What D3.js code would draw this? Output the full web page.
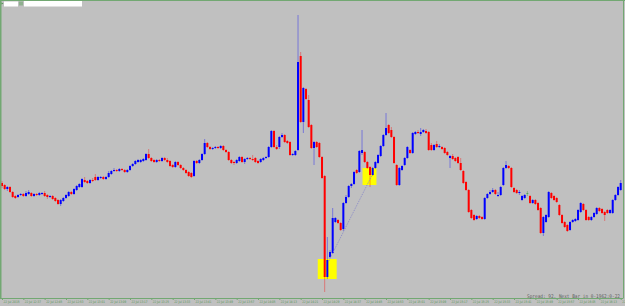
<!DOCTYPE html>
<html>
<head>
<meta charset="utf-8">
<script src="https://cdn.jsdelivr.net/npm/d3@7"></script>
<style>
html, body { margin: 0; padding: 0; background: #c0c0c0; overflow: hidden; }
svg { display: block; }
</style>
</head>
<body>
<div id="output"></div>
<script>
(function () {

"use strict";

// M1 bars, oldest first
var open = [
  1.2817,1.2815,1.2811,1.2813,1.2808,1.2804,1.2803,1.2805,1.2806,1.2804,1.2806,1.2807,1.2804,1.2806,1.2805,1.2806,
  1.2807,1.2805,1.2803,1.2804,1.2802,1.2800,1.2796,1.2799,1.2802,1.2804,1.2808,1.2806,1.2810,1.2813,1.2813,1.2820,
  1.2819,1.2817,1.2820,1.2823,1.2820,1.2822,1.2823,1.2821,1.2823,1.2826,1.2829,1.2830,1.2829,1.2831,1.2830,1.2828,
  1.2830,1.2834,1.2836,1.2838,1.2838,1.2839,1.2840,1.2846,1.2842,1.2840,1.2838,1.2840,1.2839,1.2842,1.2840,1.2839,
  1.2835,1.2833,1.2838,1.2835,1.2832,1.2830,1.2828,1.2827,1.2824,1.2839,1.2837,1.2840,1.2846,1.2857,1.2853,1.2851,
  1.2852,1.2853,1.2852,1.2854,1.2850,1.2848,1.2840,1.2838,1.2837,1.2839,1.2843,1.2838,1.2841,1.2842,1.2841,1.2842,
  1.2839,1.2838,1.2840,1.2842,1.2843,1.2853,1.2869,1.2853,1.2853,1.2863,1.2865,1.2859,1.2858,1.2845,1.2845,1.2850,
  1.2944,1.2878,1.2911,1.2900,1.2875,1.2852,1.2858,1.2857,1.2843,1.2824,1.2723,1.2743,1.2747,1.2778,1.2780,1.2777,
  1.2771,1.2797,1.2803,1.2814,1.2816,1.2830,1.2828,1.2847,1.2848,1.2838,1.2833,1.2825,1.2832,1.2837,1.2844,1.2854,
  1.2865,1.2875,1.2870,1.2863,1.2835,1.2815,1.2830,1.2835,1.2842,1.2850,1.2847,1.2866,1.2868,1.2866,1.2868,1.2869,
  1.2868,1.2855,1.2850,1.2856,1.2853,1.2853,1.2852,1.2848,1.2842,1.2844,1.2842,1.2843,1.2837,1.2829,1.2818,1.2810,
  1.2790,1.2785,1.2781,1.2784,1.2783,1.2781,1.2802,1.2806,1.2808,1.2810,1.2804,1.2805,1.2815,1.2832,1.2834,1.2832,
  1.2812,1.2810,1.2807,1.2800,1.2802,1.2807,1.2804,1.2797,1.2800,1.2797,1.2792,1.2767,1.2778,1.2783,1.2807,1.2804,
  1.2802,1.2795,1.2785,1.2778,1.2775,1.2770,1.2778,1.2779,1.2780,1.2788,1.2796,1.2790,1.2783,1.2780,1.2783,1.2786,
  1.2792,1.2791,1.2788,1.2790,1.2787,1.2787,1.2800,1.2805,1.2810
]
var high = [
  1.2819,1.2816,1.2814,1.2814,1.2809,1.2805,1.2806,1.2807,1.2807,1.2809,1.2810,1.2808,1.2807,1.2807,1.2808,1.2808,
  1.2809,1.2806,1.2805,1.2805,1.2803,1.2801,1.2801,1.2803,1.2806,1.2809,1.2809,1.2812,1.2815,1.2817,1.2822,1.2823,
  1.2820,1.2821,1.2822,1.2826,1.2824,1.2824,1.2824,1.2824,1.2829,1.2830,1.2832,1.2831,1.2832,1.2832,1.2831,1.2831,
  1.2835,1.2837,1.2840,1.2841,1.2841,1.2842,1.2847,1.2851,1.2843,1.2841,1.2841,1.2841,1.2843,1.2843,1.2842,1.2840,
  1.2836,1.2839,1.2839,1.2836,1.2833,1.2831,1.2829,1.2828,1.2840,1.2840,1.2841,1.2847,1.2861,1.2858,1.2854,1.2853,
  1.2854,1.2854,1.2855,1.2855,1.2851,1.2849,1.2841,1.2839,1.2841,1.2844,1.2844,1.2842,1.2843,1.2843,1.2845,1.2843,
  1.2840,1.2842,1.2843,1.2844,1.2854,1.2870,1.2870,1.2855,1.2864,1.2867,1.2866,1.2860,1.2859,1.2847,1.2850,1.2985,
  1.2948,1.2913,1.2912,1.2905,1.2876,1.2859,1.2859,1.2858,1.2844,1.2825,1.2763,1.2750,1.2792,1.2783,1.2781,1.2778,
  1.2798,1.2805,1.2815,1.2817,1.2829,1.2831,1.2850,1.2870,1.2849,1.2839,1.2834,1.2833,1.2839,1.2846,1.2855,1.2866,
  1.2887,1.2876,1.2873,1.2864,1.2836,1.2833,1.2835,1.2843,1.2854,1.2851,1.2868,1.2869,1.2870,1.2872,1.2871,1.2871,
  1.2869,1.2857,1.2856,1.2859,1.2856,1.2854,1.2853,1.2849,1.2845,1.2846,1.2843,1.2844,1.2842,1.2830,1.2819,1.2811,
  1.2791,1.2786,1.2785,1.2785,1.2784,1.2803,1.2807,1.2810,1.2812,1.2811,1.2808,1.2814,1.2833,1.2839,1.2835,1.2833,
  1.2813,1.2811,1.2810,1.2805,1.2806,1.2809,1.2805,1.2801,1.2801,1.2798,1.2793,1.2784,1.2786,1.2809,1.2808,1.2805,
  1.2803,1.2796,1.2786,1.2779,1.2776,1.2779,1.2781,1.2782,1.2791,1.2798,1.2797,1.2791,1.2784,1.2784,1.2788,1.2793,
  1.2793,1.2792,1.2789,1.2791,1.2791,1.2801,1.2806,1.2814,1.2820
]
var low = [
  1.2812,1.2810,1.2809,1.2807,1.2802,1.2801,1.2802,1.2804,1.2803,1.2803,1.2805,1.2803,1.2803,1.2804,1.2804,1.2805,
  1.2803,1.2801,1.2802,1.2800,1.2798,1.2795,1.2794,1.2798,1.2801,1.2803,1.2805,1.2805,1.2809,1.2812,1.2812,1.2817,
  1.2816,1.2816,1.2818,1.2819,1.2819,1.2821,1.2820,1.2820,1.2822,1.2825,1.2828,1.2828,1.2828,1.2829,1.2827,1.2827,
  1.2829,1.2833,1.2835,1.2837,1.2837,1.2838,1.2839,1.2841,1.2838,1.2837,1.2837,1.2838,1.2838,1.2839,1.2837,1.2833,
  1.2832,1.2832,1.2834,1.2831,1.2829,1.2826,1.2823,1.2822,1.2823,1.2836,1.2836,1.2839,1.2845,1.2852,1.2850,1.2850,
  1.2851,1.2851,1.2851,1.2849,1.2847,1.2839,1.2836,1.2835,1.2836,1.2838,1.2837,1.2836,1.2840,1.2840,1.2839,1.2837,
  1.2836,1.2837,1.2839,1.2841,1.2842,1.2852,1.2852,1.2850,1.2851,1.2862,1.2857,1.2856,1.2844,1.2844,1.2844,1.2849,
  1.2877,1.2867,1.2900,1.2872,1.2851,1.2835,1.2852,1.2842,1.2821,1.2708,1.2721,1.2742,1.2746,1.2777,1.2776,1.2769,
  1.2769,1.2796,1.2802,1.2812,1.2815,1.2826,1.2827,1.2845,1.2837,1.2831,1.2813,1.2824,1.2831,1.2836,1.2843,1.2853,
  1.2864,1.2866,1.2862,1.2836,1.2814,1.2814,1.2829,1.2834,1.2841,1.2846,1.2846,1.2865,1.2866,1.2864,1.2867,1.2866,
  1.2849,1.2849,1.2849,1.2852,1.2852,1.2850,1.2846,1.2844,1.2832,1.2840,1.2838,1.2836,1.2829,1.2816,1.2809,1.2787,
  1.2781,1.2779,1.2780,1.2781,1.2780,1.2780,1.2801,1.2805,1.2807,1.2805,1.2803,1.2804,1.2814,1.2831,1.2831,1.2812,
  1.2807,1.2806,1.2805,1.2799,1.2801,1.2804,1.2796,1.2796,1.2795,1.2789,1.2766,1.2764,1.2777,1.2782,1.2801,1.2799,
  1.2797,1.2784,1.2776,1.2772,1.2768,1.2769,1.2777,1.2778,1.2779,1.2787,1.2789,1.2779,1.2779,1.2779,1.2782,1.2785,
  1.2788,1.2786,1.2779,1.2786,1.2786,1.2786,1.2799,1.2804,1.2809
]
var close = [
  1.2814,1.2811,1.2813,1.2808,1.2803,1.2802,1.2805,1.2806,1.2804,1.2807,1.2808,1.2804,1.2806,1.2805,1.2807,1.2807,
  1.2804,1.2803,1.2804,1.2801,1.2799,1.2796,1.2800,1.2802,1.2805,1.2808,1.2806,1.2811,1.2814,1.2816,1.2821,1.2818,
  1.2817,1.2820,1.2819,1.2820,1.2823,1.2823,1.2821,1.2823,1.2827,1.2829,1.2830,1.2829,1.2831,1.2830,1.2828,1.2830,
  1.2834,1.2836,1.2839,1.2840,1.2840,1.2841,1.2846,1.2842,1.2839,1.2838,1.2840,1.2839,1.2842,1.2840,1.2838,1.2834,
  1.2833,1.2838,1.2835,1.2832,1.2830,1.2827,1.2824,1.2823,1.2839,1.2837,1.2840,1.2846,1.2857,1.2853,1.2851,1.2852,
  1.2853,1.2852,1.2854,1.2850,1.2848,1.2840,1.2837,1.2837,1.2840,1.2843,1.2838,1.2841,1.2842,1.2841,1.2840,1.2838,
  1.2837,1.2841,1.2842,1.2843,1.2853,1.2869,1.2853,1.2851,1.2863,1.2865,1.2858,1.2857,1.2845,1.2846,1.2849,1.2938,
  1.2878,1.2912,1.2901,1.2873,1.2852,1.2858,1.2853,1.2843,1.2822,1.2723,1.2740,1.2748,1.2782,1.2782,1.2777,1.2770,
  1.2797,1.2803,1.2814,1.2816,1.2828,1.2827,1.2849,1.2850,1.2838,1.2832,1.2825,1.2832,1.2838,1.2845,1.2854,1.2865,
  1.2872,1.2867,1.2863,1.2837,1.2815,1.2832,1.2834,1.2842,1.2853,1.2847,1.2867,1.2868,1.2867,1.2868,1.2870,1.2867,
  1.2850,1.2850,1.2855,1.2853,1.2854,1.2851,1.2847,1.2845,1.2844,1.2841,1.2839,1.2837,1.2830,1.2817,1.2810,1.2788,
  1.2782,1.2780,1.2784,1.2782,1.2781,1.2802,1.2806,1.2808,1.2810,1.2806,1.2805,1.2813,1.2832,1.2835,1.2832,1.2813,
  1.2808,1.2807,1.2808,1.2804,1.2805,1.2807,1.2797,1.2800,1.2796,1.2790,1.2767,1.2783,1.2785,1.2808,1.2802,1.2800,
  1.2798,1.2785,1.2777,1.2773,1.2769,1.2778,1.2780,1.2781,1.2790,1.2797,1.2790,1.2780,1.2780,1.2783,1.2787,1.2792,
  1.2789,1.2787,1.2785,1.2787,1.2790,1.2800,1.2805,1.2813,1.2817
]

// one label every 8 bars
var timeLabels = [
  "22 Jul 2015","22 Jul 12:37","22 Jul 12:45","22 Jul 12:53","22 Jul 13:01","22 Jul 13:09","22 Jul 13:17","22 Jul 13:25",
  "22 Jul 13:33","22 Jul 13:41","22 Jul 13:49","22 Jul 13:57","22 Jul 14:05","22 Jul 14:13","22 Jul 14:21","22 Jul 14:29",
  "22 Jul 14:37","22 Jul 14:45","22 Jul 14:53","22 Jul 15:01","22 Jul 15:09","22 Jul 15:17","22 Jul 15:25","22 Jul 15:33",
  "22 Jul 15:41","22 Jul 15:49","22 Jul 15:57","22 Jul 16:05","22 Jul 16:13","22 Jul 16:21"
]

// rectangle objects (bar index / price)
var boxFrom = [ 118.4, 135.2 ]
var boxTo = [ 125.5, 140.4 ]
var boxTop = [ 1.2741, 1.2832 ]
var boxBottom = [ 1.2721, 1.2815 ]

// trend line (bar index / price)
var trendBar = [ 122.5, 138.6 ]
var trendPrice = [ 1.2739, 1.2824 ]

var statusText = "Spread: 92. Next Bar in 0-1962:0-22"

var width = 625
  , height = 306
  , plotBottom = 298
  , frameColor = "#72a872"
  , labelColor = "#4f934f"

var svg = d3.select("#output").append("svg").attr("width", width).attr("height", height)

svg.append("rect").attr("width", width).attr("height", height).attr("fill", "#c0c0c0")

var x = d3.scaleLinear().domain([0, open.length - 1]).range([2, 620.7])
var y = d3.scaleLinear().domain([1.2702, 1.3000]).range([plotBottom, 0])

var bars = d3.range(open.length).map(function (i) {
  return { i: i, o: open[i], h: high[i], l: low[i], c: close[i] }
})

// yellow rectangles sit under the bars
svg.append("g").selectAll("rect").data(boxFrom).enter().append("rect")
  .attr("x", function (d) { return x(d) })
  .attr("width", function (d, k) { return x(boxTo[k]) - x(d) })
  .attr("y", function (d, k) { return y(boxTop[k]) })
  .attr("height", function (d, k) { return y(boxBottom[k]) - y(boxTop[k]) })
  .attr("fill", "#ffff00")

function barColor(d) {
  if (d.c > d.o) return "#0000ff"
  if (d.c < d.o) return "#ff0000"
  return "#30a030"
}

var g = svg.append("g")

g.selectAll("line.wick").data(bars).enter().append("line")
  .attr("class", "wick")
  .attr("x1", function (d) { return x(d.i) }).attr("x2", function (d) { return x(d.i) })
  .attr("y1", function (d) { return y(d.h) }).attr("y2", function (d) { return y(d.l) })
  .attr("stroke", barColor)
  .attr("stroke-opacity", 0.38)
  .attr("stroke-width", 1)

g.selectAll("rect.body").data(bars).enter().append("rect")
  .attr("class", "body")
  .attr("x", function (d) { return x(d.i) - 1 })
  .attr("width", 2)
  .attr("y", function (d) { return y(Math.max(d.o, d.c)) })
  .attr("height", function (d) { return Math.max(1, Math.abs(y(d.o) - y(d.c))) })
  .attr("fill", barColor)
  .attr("fill-opacity", function (d) { return d.o === d.c ? 0.6 : 1 })

// trend line
svg.append("line")
  .attr("x1", x(trendBar[0])).attr("y1", y(trendPrice[0]))
  .attr("x2", x(trendBar[1])).attr("y2", y(trendPrice[1]))
  .attr("stroke", "#8c8cc8")
  .attr("stroke-width", 1)
  .attr("stroke-dasharray", "1,1")

// time axis
var axis = d3.axisBottom(x)
  .tickValues(d3.range(0, open.length, 8))
  .tickFormat(function (d, k) { return timeLabels[k] })
  .tickSize(2)
  .tickSizeOuter(0)

var ax = svg.append("g").attr("transform", "translate(0," + plotBottom + ")").call(axis)
ax.select(".domain").remove()
ax.selectAll(".tick line").attr("stroke", frameColor)
ax.selectAll(".tick text")
  .attr("fill", labelColor)
  .attr("font-family", "DejaVu Sans")
  .attr("font-size", 3.4)
  .attr("text-anchor", "start")
  .attr("x", 1)
  .attr("y", 2.2)
  .attr("dy", "0.71em")
  .attr("textLength", 16)
  .attr("lengthAdjust", "spacingAndGlyphs")

svg.append("line")
  .attr("x1", 0).attr("x2", 623.5)
  .attr("y1", plotBottom + 0.5).attr("y2", plotBottom + 0.5)
  .attr("stroke", frameColor)

// frame
svg.append("line").attr("x1", 0.75).attr("x2", 0.75).attr("y1", 0).attr("y2", plotBottom)
  .attr("stroke", frameColor).attr("stroke-width", 1.5)
svg.append("line").attr("x1", 0).attr("x2", width).attr("y1", 0.5).attr("y2", 0.5)
  .attr("stroke", frameColor)
svg.append("line").attr("x1", 623.5).attr("x2", 623.5).attr("y1", 0).attr("y2", plotBottom)
  .attr("stroke", frameColor)

// status text
svg.append("text")
  .attr("x", 527).attr("y", 297.5)
  .attr("font-family", "DejaVu Sans Mono")
  .attr("font-size", 5)
  .attr("fill", "#606060")
  .attr("textLength", 93)
  .attr("lengthAdjust", "spacingAndGlyphs")
  .text(statusText)

// top-left chart widgets
svg.append("path").attr("d", "M1.5,2.5 L3.5,3.5 L1.5,4.5 Z").attr("fill", "#4f934f")
svg.append("rect").attr("x", 4).attr("y", 1.5).attr("width", 14).attr("height", 5).attr("fill", "#ffffff")
svg.append("rect").attr("x", 19).attr("y", 1.5).attr("width", 4).attr("height", 4).attr("fill", "#8fb08f")
svg.append("rect").attr("x", 24).attr("y", 1).attr("width", 58).attr("height", 5.5).attr("fill", "#ffffff")

}())
</script>
</body>
</html>
